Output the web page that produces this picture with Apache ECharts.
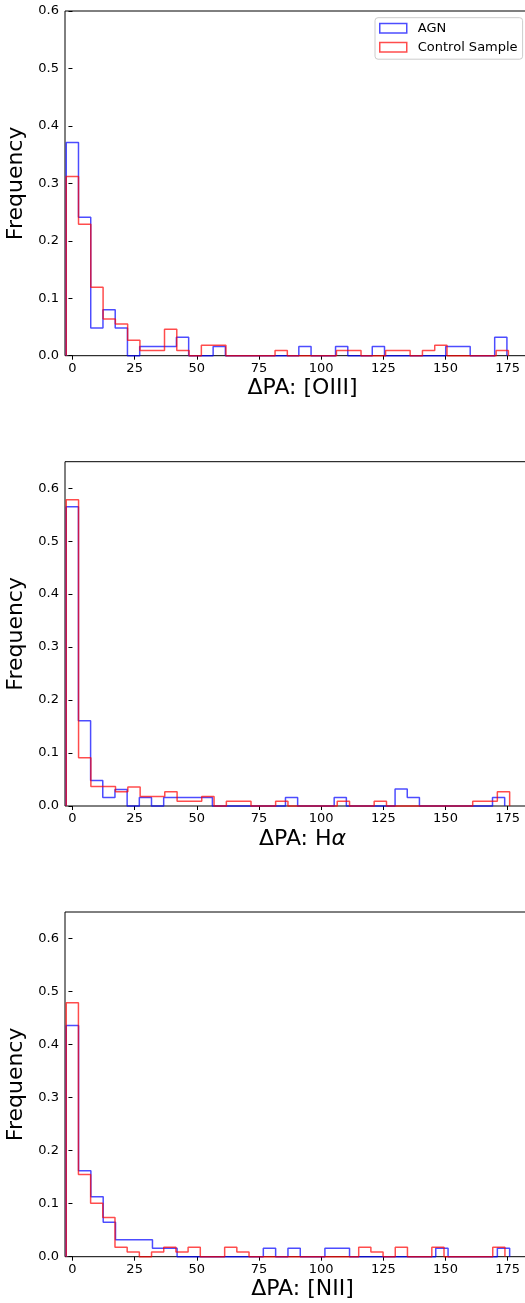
<!DOCTYPE html>
<html>
<head>
<meta charset="utf-8">
<script src="https://cdn.jsdelivr.net/npm/echarts@6/dist/echarts.min.js"></script>
<style>
html,body{margin:0;padding:0;background:#fff;}
#chart{width:525px;height:1303px;}
</style>
</head>
<body>
<div id="chart"></div>
<script>
// Histogram bins: 36 bins per series, first edge ~ -2.5 deg, last edge per series
const binLo = -2.5;
const nBins = 36;
// Panel 1: [OIII]
const oiiiAgnHi = 174.7;
const oiiiCtrlHi = 175.3;
const oiiiAgn  = [0.371,0.241,0.048,0.080,0.048,0,0.016,0.016,0.016,0.032,0,0,0.016,0,0,0,0,0,0,0.016,0,0,0.016,0,0,0.016,0,0,0,0,0,0.016,0.016,0,0,0.032];
const oiiiCtrl = [0.312,0.229,0.119,0.064,0.055,0.027,0.009,0.009,0.046,0.009,0,0.018,0.018,0,0,0,0,0.009,0,0,0,0,0.009,0.009,0,0,0.009,0.009,0,0.009,0.018,0,0,0,0,0.009];
// Panel 2: H-alpha
const haAgnHi = 173.8;
const haCtrlHi = 175.8;
const haAgn  = [0.565,0.161,0.048,0.016,0.031,0,0.016,0,0.016,0.016,0.016,0.016,0,0,0,0,0,0,0.016,0,0,0,0.016,0,0,0,0,0.032,0.016,0,0,0,0,0,0,0.016];
const haCtrl = [0.578,0.091,0.037,0.037,0.027,0.036,0.018,0.018,0.027,0.009,0.009,0.018,0,0.009,0.009,0,0,0.009,0,0,0,0,0.009,0,0,0.009,0,0,0,0,0,0,0,0.009,0.009,0.027];
// Panel 3: [NII]
const niiAgnHi = 175.8;
const niiCtrlHi = 173.9;
const niiAgn  = [0.436,0.162,0.113,0.065,0.032,0.032,0.032,0.016,0.016,0,0,0,0,0,0,0,0.016,0,0.016,0,0,0.016,0.016,0,0,0,0,0,0,0,0.016,0,0,0,0,0.016];
const niiCtrl = [0.479,0.155,0.101,0.074,0.018,0.009,0,0.009,0.018,0.009,0.018,0,0,0.018,0.009,0,0,0,0,0,0,0,0,0,0.018,0.009,0,0.018,0,0,0.018,0,0,0,0,0.018];

const xTicks = [0,25,50,75,100,125,150,175];
const yTicks = [0,0.1,0.2,0.3,0.4,0.5,0.6];
const yMaxes = [0.6,0.65,0.65];
const seriesNames = ['AGN','Control Sample'];

const FONT = 'DejaVu Sans';
const BLUE = 'rgba(0,0,255,0.7)';
const RED = 'rgba(255,0,0,0.7)';

function stepPoints(vals, lo, hi) {
  const w = (hi - lo) / vals.length;
  const pts = [[lo, 0]];
  vals.forEach(function (v, i) {
    pts.push([lo + i * w, v]);
    pts.push([lo + (i + 1) * w, v]);
  });
  pts.push([hi, 0]);
  return pts;
}

const panels = [
  {agn: oiiiAgn, agnHi: oiiiAgnHi, ctrl: oiiiCtrl, ctrlHi: oiiiCtrlHi, name: 'ΔPA: [OIII]'},
  {agn: haAgn, agnHi: haAgnHi, ctrl: haCtrl, ctrlHi: haCtrlHi, name: '{n|ΔPA: H}{a|α}'},
  {agn: niiAgn, agnHi: niiAgnHi, ctrl: niiCtrl, ctrlHi: niiCtrlHi, name: 'ΔPA: [NII]'}
];
const gridTops = [11, 461.7, 912];
const gridBottoms = [947.3, 497, 46.3];

const grids = [], xAxes = [], yAxes = [], series = [];
panels.forEach(function (p, i) {
  grids.push({left: 65, right: -15, top: gridTops[i], bottom: gridBottoms[i],
    outerBoundsMode: 'none', containLabel: false,
    show: true, borderColor: '#000', borderWidth: 1, backgroundColor: 'transparent'});
  xAxes.push({
    type: 'value', gridIndex: i, min: -3, max: 188,
    axisLine: {show: false},
    splitLine: {show: false},
    axisTick: {show: true, length: 4, lineStyle: {color: '#000', width: 1}, customValues: xTicks},
    axisLabel: {show: true, customValues: xTicks, fontFamily: FONT, fontSize: 13, color: '#000', margin: 6},
    name: p.name, nameLocation: 'middle', nameGap: 22,
    nameTextStyle: {fontFamily: FONT, fontSize: 22, color: '#000',
      rich: {n: {fontFamily: FONT, fontSize: 22, color: '#000'},
             a: {fontFamily: FONT, fontSize: 22, color: '#000', fontStyle: 'italic'}}}
  });
  yAxes.push({
    type: 'value', gridIndex: i, min: 0, max: yMaxes[i],
    axisLine: {show: false},
    splitLine: {show: false},
    axisTick: {show: true, length: 4, lineStyle: {color: '#000', width: 1}, customValues: yTicks},
    axisLabel: {show: true, customValues: yTicks, fontFamily: FONT, fontSize: 13, color: '#000', margin: 6,
      formatter: function (v) { return v.toFixed(1); }},
    name: 'Frequency', nameLocation: 'middle', nameGap: 35,
    nameTextStyle: {fontFamily: FONT, fontSize: 22, color: '#000'}
  });
  series.push({
    name: seriesNames[0], type: 'line', xAxisIndex: i, yAxisIndex: i,
    data: stepPoints(p.agn, binLo, p.agnHi), showSymbol: false, symbol: 'none', clip: false,
    lineStyle: {color: BLUE, width: 1.5}, itemStyle: {color: BLUE}, z: 2
  });
  series.push({
    name: seriesNames[1], type: 'line', xAxisIndex: i, yAxisIndex: i,
    data: stepPoints(p.ctrl, binLo, p.ctrlHi), showSymbol: false, symbol: 'none', clip: false,
    lineStyle: {color: RED, width: 1.5}, itemStyle: {color: RED}, z: 3
  });
});

const chart = echarts.init(document.getElementById('chart'), null, {renderer: 'canvas'});
chart.setOption({
  animation: false,
  backgroundColor: '#fff',
  grid: grids,
  xAxis: xAxes,
  yAxis: yAxes,
  legend: {
    orient: 'vertical', left: 375, top: 17.7,
    data: [
      {name: seriesNames[0], icon: 'rect', itemStyle: {color: 'rgba(0,0,0,0)', borderColor: BLUE, borderWidth: 1.5}},
      {name: seriesNames[1], icon: 'rect', itemStyle: {color: 'rgba(0,0,0,0)', borderColor: RED, borderWidth: 1.5}}
    ],
    itemWidth: 27, itemHeight: 9.4, itemGap: 5,
    padding: [3.5, 5, 5, 4],
    borderColor: '#cccccc', borderWidth: 1, borderRadius: 3,
    backgroundColor: 'rgba(255,255,255,0.8)',
    textStyle: {fontFamily: FONT, fontSize: 13, color: '#000', lineHeight: 14, padding: [0, 0, 0, 6]}
  },
  series: series
});
</script>
</body>
</html>
